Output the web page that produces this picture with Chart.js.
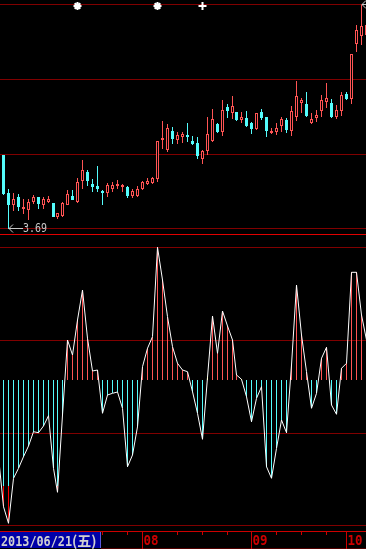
<!DOCTYPE html>
<html>
<head>
<meta charset="utf-8">
<script src="https://cdn.jsdelivr.net/npm/chart.js@4.4.0/dist/chart.umd.min.js"></script>
<style>
  html, body { margin: 0; padding: 0; background: #000; }
  #wrap { position: relative; width: 366px; height: 549px; overflow: hidden; background: #000; }
  #kline { position: absolute; left: 0; top: 0; }
  #osc { position: absolute; left: 0; top: 236px; }
</style>
</head>
<body>
<div id="wrap">
  <canvas id="kline" width="366" height="236"></canvas>
  <canvas id="osc" width="366" height="313"></canvas>
</div>
<script>
// daily candles, first one is 2013/06/21
const opens = [4.243, 3.960, 3.868, 3.925, 3.840, 3.830, 3.890, 3.928, 3.870, 3.893,
  3.883, 3.778, 3.785, 3.870, 3.935, 3.890, 4.048, 4.113, 4.025, 4.010,
  3.973, 3.958, 3.988, 4.013, 4.005, 4.003, 3.935, 3.935, 3.988, 4.028,
  4.033, 4.060, 4.358, 4.280, 4.423, 4.353, 4.378, 4.393, 4.350, 4.333,
  4.215, 4.275, 4.348, 4.475, 4.418, 4.603, 4.558, 4.565, 4.505, 4.520,
  4.483, 4.438, 4.565, 4.528, 4.405, 4.415, 4.460, 4.505, 4.425, 4.528,
  4.633, 4.625, 4.483, 4.520, 4.573, 4.640, 4.633, 4.528, 4.573, 4.700,
  4.663, 5.075, 5.135, 5.143]
const highs = [4.243, 3.988, 3.960, 3.950, 3.913, 3.913, 3.943, 3.928, 3.930, 3.933,
  3.883, 3.805, 3.893, 3.978, 3.980, 4.068, 4.203, 4.130, 4.063, 4.160,
  3.980, 4.033, 4.043, 4.053, 4.025, 4.010, 3.990, 4.010, 4.048, 4.070,
  4.078, 4.348, 4.498, 4.475, 4.453, 4.415, 4.418, 4.483, 4.385, 4.378,
  4.280, 4.528, 4.588, 4.483, 4.655, 4.625, 4.685, 4.565, 4.565, 4.573,
  4.490, 4.558, 4.588, 4.528, 4.445, 4.483, 4.528, 4.520, 4.610, 4.798,
  4.670, 4.715, 4.558, 4.580, 4.693, 4.783, 4.663, 4.618, 4.715, 4.715,
  5.000, 5.220, 5.368, 5.240]
const lows = [3.943, 3.690, 3.825, 3.825, 3.803, 3.755, 3.878, 3.840, 3.838, 3.885,
  3.780, 3.765, 3.778, 3.870, 3.905, 3.885, 3.985, 4.013, 3.968, 3.965,
  3.870, 3.930, 3.968, 3.990, 3.965, 3.923, 3.923, 3.930, 3.980, 4.015,
  4.025, 4.043, 4.290, 4.263, 4.325, 4.323, 4.330, 4.343, 4.320, 4.215,
  4.178, 4.245, 4.343, 4.410, 4.385, 4.520, 4.513, 4.498, 4.485, 4.453,
  4.400, 4.430, 4.505, 4.378, 4.400, 4.393, 4.415, 4.408, 4.385, 4.498,
  4.558, 4.528, 4.475, 4.490, 4.528, 4.595, 4.520, 4.513, 4.535, 4.655,
  4.625, 5.015, 5.068, 5.120]
const closes = [3.950, 3.868, 3.913, 3.855, 3.853, 3.890, 3.928, 3.875, 3.913, 3.913,
  3.780, 3.805, 3.885, 3.948, 3.905, 4.040, 4.128, 4.048, 4.003, 3.988,
  3.960, 4.018, 4.018, 4.028, 4.018, 3.935, 3.975, 3.988, 4.040, 4.045,
  4.070, 4.348, 4.370, 4.445, 4.363, 4.393, 4.400, 4.378, 4.325, 4.235,
  4.273, 4.400, 4.513, 4.415, 4.580, 4.573, 4.608, 4.505, 4.528, 4.460,
  4.438, 4.558, 4.520, 4.423, 4.423, 4.445, 4.513, 4.430, 4.573, 4.685,
  4.655, 4.535, 4.513, 4.543, 4.655, 4.670, 4.528, 4.580, 4.693, 4.663,
  5.000, 5.180, 5.210, 5.218]

// oscillator, first value belongs to the day before the first visible candle
const osc = [-0.767,
  -1.267, -1.433, -0.983, -0.883, -0.767, -0.660, -0.517, -0.527, -0.460, -0.357,
  -0.883, -1.123, -0.350, 0.400, 0.250, 0.600, 0.900, 0.417, 0.090, 0.100,
  -0.333, -0.150, -0.133, -0.120, -0.283, -0.867, -0.750, -0.467, 0.133, 0.317,
  0.433, 1.327, 1.000, 0.633, 0.333, 0.167, 0.100, 0.083, -0.117, -0.333,
  -0.593, 0.027, 0.640, 0.267, 0.690, 0.540, 0.400, 0.050, 0.007, -0.167,
  -0.417, -0.183, -0.067, -0.867, -0.983, -0.683, -0.400, -0.527, 0.150, 0.950,
  0.450, 0.083, -0.283, -0.133, 0.217, 0.327, -0.250, -0.343, 0.117, 0.167,
  1.077, 1.077, 0.650, 0.400]
const signalLevel = -1.06
const yellowBars = [41, 48]

const priceGrid = [5.3725, 4.81, 4.2475, 3.69]
const oscGrid = [1.327, 0.400, -0.535, -1.455]

const starMarks = [15, 31]
const crossMarks = [40]

const firstDate = '2013/06/21'
const firstWeekday = '(五)'
const monthLabels = ['08', '09', '10']
const monthStart = [28, 50, 69]
const weekTicks = [20, 25, 35, 40, 45, 55, 60, 65]

const UP = '#ff5454'
const DOWN = '#54fcfc'
const GRID = '#800000'
const AXIS = '#cc0000'

const xAxis = () => ({ type: 'linear', display: false, offset: false, min: -0.664, max: 72.95 })

// keep bars on whole pixels so thin sticks stay sharp
const snapPixels = {
    id: 'snapPixels',
    afterDatasetsUpdate(chart) {
        chart.getSortedVisibleDatasetMetas().forEach(meta => {
            meta.data.forEach(el => {
                el.x = Math.floor(el.x) + 0.5
                if (meta.type === 'bar') {
                    el.y = Math.round(el.y)
                    el.base = Math.round(el.base)
                    if (el.y === el.base) el.base = el.y + 1
                }
            })
        })
    }
}

const hLines = {
    id: 'hLines',
    beforeDatasetsDraw(chart, args, opts) {
        const { ctx, chartArea: a, scales: { y } } = chart
        ctx.save()
        ctx.strokeStyle = GRID
        ctx.lineWidth = 1
        opts.levels.forEach(v => {
            const py = Math.floor(y.getPixelForValue(v)) + 0.5
            ctx.beginPath()
            ctx.moveTo(a.left, py)
            ctx.lineTo(a.right, py)
            ctx.stroke()
        })
        ctx.restore()
    }
}

function priceTag(ctx, x, y, text) {
    ctx.beginPath()
    ctx.moveTo(x + 15, y)
    ctx.lineTo(x + 1, y)
    ctx.moveTo(x + 5, y - 4)
    ctx.lineTo(x + 1, y)
    ctx.lineTo(x + 5, y + 4)
    ctx.stroke()
    ctx.fillText(text, x + 15, y, 24)
}

const priceTags = {
    id: 'priceTags',
    afterDatasetsDraw(chart) {
        const { ctx, chartArea: a, scales: { x, y } } = chart
        let lo = 0, hi = 0
        lows.forEach((v, i) => { if (v < lows[lo]) lo = i })
        highs.forEach((v, i) => { if (v > highs[hi]) hi = i })
        ctx.save()
        ctx.strokeStyle = ctx.fillStyle = '#c8c8c8'
        ctx.lineWidth = 1
        ctx.font = '13px "DejaVu Sans Mono"'
        ctx.textBaseline = 'middle'
        priceTag(ctx, Math.floor(x.getPixelForValue(lo)), Math.floor(y.getPixelForValue(lows[lo])) + 0.5, lows[lo].toFixed(2))
        priceTag(ctx, Math.floor(x.getPixelForValue(hi)), Math.floor(y.getPixelForValue(highs[hi])) + 0.5, highs[hi].toFixed(2))
        // panel separator
        ctx.strokeStyle = '#e00000'
        ctx.beginPath()
        ctx.moveTo(a.left, a.bottom - 1.5)
        ctx.lineTo(a.right, a.bottom - 1.5)
        ctx.stroke()
        ctx.restore()
    }
}

const timeAxis = {
    id: 'timeAxis',
    afterDraw(chart) {
        const { ctx, chartArea: a, scales: { x } } = chart
        const top = a.bottom
        const h = chart.height
        ctx.save()
        ctx.fillStyle = '#0000a8'
        ctx.fillRect(0, top + 1, 101, h - top - 2)
        ctx.strokeStyle = '#5858e0'
        ctx.beginPath()
        ctx.moveTo(100.5, top + 1)
        ctx.lineTo(100.5, h - 1)
        ctx.stroke()

        ctx.strokeStyle = AXIS
        ctx.lineWidth = 1
        ctx.beginPath()
        ctx.moveTo(0, top + 0.5)
        ctx.lineTo(a.right, top + 0.5)
        ctx.stroke()
        ctx.strokeStyle = '#500000'
        ctx.beginPath()
        ctx.moveTo(101, h - 0.5)
        ctx.lineTo(a.right, h - 0.5)
        ctx.stroke()

        ctx.strokeStyle = AXIS
        weekTicks.forEach(i => {
            const px = Math.floor(x.getPixelForValue(i)) + 0.5
            ctx.beginPath()
            ctx.moveTo(px, top)
            ctx.lineTo(px, top + 4)
            ctx.stroke()
        })
        ctx.fillStyle = AXIS
        ctx.font = 'bold 14px "DejaVu Sans Mono"'
        monthStart.forEach((i, k) => {
            const px = Math.floor(x.getPixelForValue(i)) + 0.5
            ctx.beginPath()
            ctx.moveTo(px, top)
            ctx.lineTo(px, h)
            ctx.stroke()
            ctx.fillText(monthLabels[k], px + 1, top + 14, 15)
        })

        ctx.fillStyle = '#d0d0d0'
        ctx.fillText(firstDate, 1, top + 15, 71)
        ctx.font = 'bold 14px "Noto Sans CJK SC"'
        ctx.fillText(firstWeekday, 72, top + 15, 26)
        ctx.restore()
    }
}

const base = {
    responsive: false,
    animation: false,
    events: [],
    plugins: { legend: { display: false }, tooltip: { enabled: false } }
}

const isUp = opens.map((o, i) => closes[i] >= o)

new Chart(document.getElementById('kline'), {
    type: 'bar',
    data: {
        datasets: [
            {
                type: 'line',
                showLine: false,
                data: starMarks.concat(crossMarks).map(i => ({ x: i, y: 5.36 })),
                pointStyle: starMarks.map(() => 'star').concat(crossMarks.map(() => 'cross')),
                pointRadius: 4,
                borderWidth: 2,
                borderColor: '#ffffff',
                clip: false,
                order: 0
            },
            {
                type: 'line',
                showLine: false,
                data: starMarks.map(i => ({ x: i, y: 5.36 })),
                pointStyle: 'rect',
                pointRadius: 2.5,
                borderWidth: 0,
                backgroundColor: '#ffffff',
                clip: false,
                order: 0
            },
            {
                data: opens.map((o, i) => ({ x: i, y: [o, closes[i]] })),
                backgroundColor: isUp.map(u => u ? '#000000' : DOWN),
                borderColor: isUp.map(u => u ? UP : DOWN),
                borderWidth: isUp.map(u => u ? 1 : 0),
                borderSkipped: false,
                barThickness: 3,
                inflateAmount: 0,
                grouped: false,
                order: 1
            },
            {
                data: lows.map((l, i) => ({ x: i, y: [l, highs[i]] })),
                backgroundColor: isUp.map(u => u ? UP : DOWN),
                barThickness: 1,
                inflateAmount: 0,
                grouped: false,
                order: 2
            }
        ]
    },
    options: {
        ...base,
        layout: { padding: 0, autoPadding: false },
        scales: {
            x: xAxis(),
            y: { display: false, min: 3.635, max: 5.405 }
        },
        plugins: { ...base.plugins, hLines: { levels: priceGrid } }
    },
    plugins: [snapPixels, hLines, priceTags]
})

const oscDays = osc.slice(1)

new Chart(document.getElementById('osc'), {
    type: 'bar',
    data: {
        datasets: [
            {
                type: 'line',
                data: osc.map((v, i) => ({ x: i - 1, y: v })),
                borderColor: '#ffffff',
                borderWidth: 1,
                pointRadius: 0,
                tension: 0,
                order: 0
            },
            {
                data: oscDays.map((v, i) => v < signalLevel ? { x: i, y: [signalLevel, v] } : null).filter(Boolean),
                backgroundColor: '#ff0000',
                barThickness: 1,
                inflateAmount: 0,
                grouped: false,
                order: 1
            },
            {
                data: oscDays.map((v, i) => ({ x: i, y: v })),
                backgroundColor: oscDays.map((v, i) => yellowBars.includes(i) ? '#ffff00' : v >= 0 ? UP : DOWN),
                barThickness: 1,
                inflateAmount: 0,
                grouped: false,
                order: 2
            }
        ]
    },
    options: {
        ...base,
        layout: { padding: { left: 0, right: 0, top: 0, bottom: 18 }, autoPadding: false },
        scales: {
            x: xAxis(),
            y: { display: false, min: -1.51, max: 1.44 }
        },
        plugins: { ...base.plugins, hLines: { levels: oscGrid } }
    },
    plugins: [snapPixels, hLines, timeAxis]
})
</script>
</body>
</html>
